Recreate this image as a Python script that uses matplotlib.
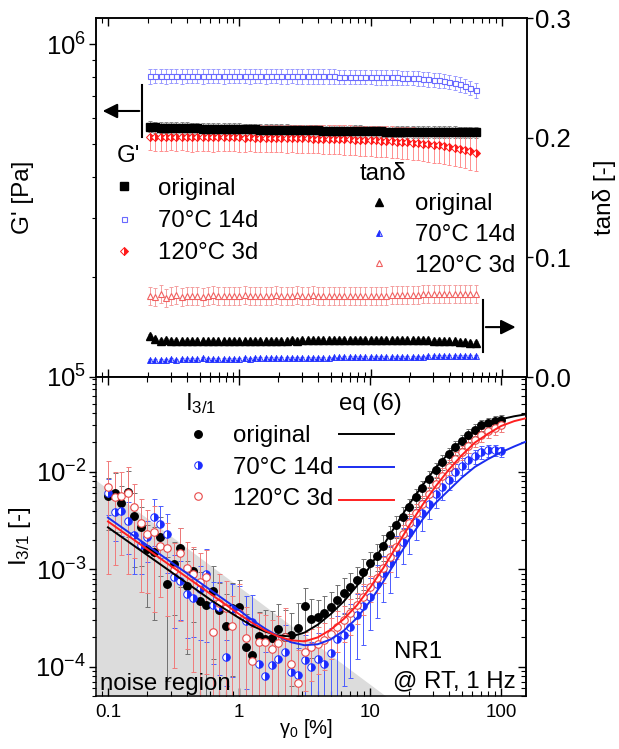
import numpy as np
import matplotlib
matplotlib.use('Agg')
import matplotlib.pyplot as plt
from matplotlib.ticker import LogLocator, FixedLocator, FuncFormatter, NullFormatter

plt.rcParams['font.family'] = ['Liberation Sans', 'DejaVu Sans']
plt.rcParams['mathtext.fontset'] = 'custom'
plt.rcParams['mathtext.rm'] = 'Liberation Sans'
plt.rcParams['mathtext.it'] = 'Liberation Sans:italic'
plt.rcParams['mathtext.bf'] = 'Liberation Sans:bold'
plt.rcParams['axes.linewidth'] = 1.1

# ---------------- data: top panel (strain sweep, 63 log-spaced points) ----------------
top_strain_first = 0.209
top_strain_last = 63.1
top_npts = 63

gp_original = [5.66, 5.63, 5.62, 5.62, 5.61, 5.61, 5.60, 5.60, 5.59, 5.59,
               5.58, 5.58, 5.58, 5.57, 5.57, 5.56, 5.56, 5.56, 5.55, 5.55,
               5.55, 5.54, 5.54, 5.54, 5.53, 5.53, 5.53, 5.52, 5.52, 5.52,
               5.51, 5.51, 5.51, 5.50, 5.50, 5.50, 5.50, 5.49, 5.49, 5.49,
               5.49, 5.48, 5.48, 5.48, 5.48, 5.47, 5.47, 5.47, 5.47, 5.46,
               5.46, 5.46, 5.46, 5.46, 5.45, 5.45, 5.45, 5.45, 5.45, 5.44,
               5.44, 5.44, 5.44]  # x 1e5 Pa
gp_70C = [8.02, 8.04, 8.03, 8.02, 8.04, 8.03, 8.02, 8.03, 8.04, 8.03,
          8.02, 8.03, 8.04, 8.03, 8.02, 8.03, 8.03, 8.04, 8.03, 8.02,
          8.03, 8.03, 8.02, 8.03, 8.03, 8.02, 8.02, 8.03, 8.02, 8.02,
          8.02, 8.01, 8.02, 8.01, 8.01, 8.01, 8.00, 8.00, 8.00, 7.99,
          7.99, 7.98, 7.98, 7.97, 7.97, 7.96, 7.95, 7.95, 7.94, 7.93,
          7.92, 7.90, 7.88, 7.86, 7.83, 7.80, 7.76, 7.71, 7.65, 7.58,
          7.50, 7.40, 7.28]
gp_120C = [5.28, 5.27, 5.26, 5.26, 5.27, 5.26, 5.26, 5.26, 5.25, 5.26,
           5.26, 5.25, 5.25, 5.26, 5.25, 5.25, 5.25, 5.25, 5.24, 5.25,
           5.24, 5.24, 5.24, 5.24, 5.23, 5.23, 5.23, 5.23, 5.22, 5.22,
           5.22, 5.21, 5.21, 5.20, 5.20, 5.19, 5.19, 5.18, 5.18, 5.17,
           5.16, 5.16, 5.15, 5.14, 5.13, 5.12, 5.11, 5.10, 5.09, 5.08,
           5.06, 5.05, 5.03, 5.01, 4.99, 4.97, 4.95, 4.92, 4.89, 4.86,
           4.82, 4.78, 4.73]
gp_120C_err = [0.46, 0.48, 0.47, 0.49, 0.47, 0.48, 0.46, 0.47, 0.49, 0.48,
               0.47, 0.48, 0.49, 0.47, 0.48, 0.47, 0.48, 0.49, 0.48, 0.47,
               0.48, 0.49, 0.48, 0.49, 0.49, 0.49, 0.50, 0.49, 0.50, 0.50,
               0.50, 0.51, 0.51, 0.51, 0.52, 0.52, 0.52, 0.53, 0.53, 0.53,
               0.54, 0.54, 0.54, 0.55, 0.55, 0.55, 0.56, 0.56, 0.56, 0.56,
               0.57, 0.57, 0.57, 0.57, 0.58, 0.58, 0.58, 0.58, 0.58, 0.58,
               0.58, 0.58, 0.58]
gp_original_relerr = 0.04
gp_70C_relerr = 0.05

tan_original = [0.0345, 0.0315, 0.0305, 0.0310, 0.0305, 0.0305, 0.0300, 0.0305, 0.0300, 0.0305,
                0.0300, 0.0300, 0.0305, 0.0300, 0.0300, 0.0300, 0.0305, 0.0300, 0.0300, 0.0300,
                0.0305, 0.0305, 0.0300, 0.0305, 0.0305, 0.0305, 0.0305, 0.0310, 0.0305, 0.0310,
                0.0310, 0.0310, 0.0310, 0.0310, 0.0310, 0.0310, 0.0310, 0.0310, 0.0310, 0.0310,
                0.0310, 0.0310, 0.0310, 0.0310, 0.0310, 0.0310, 0.0310, 0.0310, 0.0310, 0.0310,
                0.0310, 0.0310, 0.0310, 0.0310, 0.0305, 0.0305, 0.0305, 0.0300, 0.0300, 0.0295,
                0.0290, 0.0285, 0.0285]
tan_70C = [0.0140, 0.0142, 0.0145, 0.0143, 0.0148, 0.0146, 0.0150, 0.0148, 0.0152, 0.0150,
           0.0160, 0.0152, 0.0150, 0.0152, 0.0153, 0.0152, 0.0154, 0.0153, 0.0155, 0.0154,
           0.0155, 0.0156, 0.0156, 0.0157, 0.0157, 0.0158, 0.0158, 0.0159, 0.0159, 0.0160,
           0.0160, 0.0161, 0.0161, 0.0162, 0.0162, 0.0163, 0.0163, 0.0164, 0.0164, 0.0165,
           0.0165, 0.0166, 0.0166, 0.0167, 0.0167, 0.0168, 0.0168, 0.0169, 0.0169, 0.0170,
           0.0170, 0.0171, 0.0171, 0.0172, 0.0172, 0.0173, 0.0173, 0.0174, 0.0174, 0.0175,
           0.0175, 0.0176, 0.0176]
tan_120C = [0.0680, 0.0670, 0.0690, 0.0660, 0.0675, 0.0685, 0.0670, 0.0680, 0.0675, 0.0680,
            0.0670, 0.0680, 0.0685, 0.0675, 0.0680, 0.0680, 0.0675, 0.0680, 0.0685, 0.0680,
            0.0680, 0.0675, 0.0680, 0.0680, 0.0685, 0.0680, 0.0680, 0.0680, 0.0685, 0.0680,
            0.0680, 0.0685, 0.0680, 0.0680, 0.0680, 0.0680, 0.0675, 0.0680, 0.0680, 0.0680,
            0.0680, 0.0680, 0.0680, 0.0680, 0.0680, 0.0680, 0.0685, 0.0685, 0.0685, 0.0685,
            0.0685, 0.0685, 0.0690, 0.0690, 0.0690, 0.0690, 0.0690, 0.0690, 0.0690, 0.0690,
            0.0690, 0.0690, 0.0690]
tan_original_err = 0.0012
tan_70C_err = 0.0008
tan_120C_err = 0.0075

# ---------------- data: bottom panel (I3/1, 61 log-spaced points 0.1 .. 100 %) ----------------
bot_strain_first = 0.1
bot_strain_last = 100.0
bot_npts = 61

i31_original_log = [-2.25, -2.22, -2.32, -2.21, -2.45, -2.57, -2.79, -2.82, -2.67, -3.15,
                    -2.95, -2.78, -3.17, -3.02, -3.33, -3.37, -3.22, -3.42, -3.58, -3.40,
                    -3.39, -3.80, -3.88, -3.69, -3.72, -3.71, -3.61, -3.70, -3.68, -3.60,
                    -3.38, -3.51, -3.49, -3.45, -3.39, -3.32, -3.24, -3.18, -3.11, -3.03,
                    -2.94, -2.86, -2.76, -2.65, -2.55, -2.46, -2.36, -2.26, -2.17, -2.07,
                    -1.98, -1.90, -1.82, -1.75, -1.68, -1.62, -1.57, -1.52, -1.50, -1.48,
                    -1.47]
i31_70C_log = [-2.22, -2.41, -2.40, -2.50, -2.65, -2.75, -2.67, -2.46, -2.54, -2.64,
               -3.08, -3.12, -3.25, -3.30, -3.20, -3.05, -3.37, -3.39, -3.90, -3.41,
               -3.45, -3.53, -3.54, -3.97, -4.10, -3.98, -3.92, -3.85, -4.05, -4.09,
               -3.93, -4.00, -3.92, -3.97, -3.86, -3.72, -3.68, -3.59, -3.47, -3.38,
               -3.28, -3.15, -3.04, -2.94, -2.82, -2.72, -2.62, -2.51, -2.42, -2.33,
               -2.23, -2.16, -2.08, -2.00, -1.94, -1.88, -1.84, -1.80, -1.78, -1.78,
               -1.79]
i31_120C_log = [-2.16, -2.26, -2.25, -2.22, -2.36, -2.53, -2.64, -2.62, -2.76, -2.78,
                -3.01, -2.83, -2.99, -3.05, -3.13, -3.08, -3.64, -3.35, -3.40, -3.58,
                -3.45, -3.71, -3.94, -3.75, -3.75, -3.82, -3.76, -3.70, -3.97, -4.17,
                -3.85, -3.80, -3.77, -3.73, -3.66, -3.59, -3.52, -3.45, -3.37, -3.28,
                -3.18, -3.09, -2.99, -2.87, -2.77, -2.64, -2.53, -2.42, -2.33, -2.23,
                -2.13, -2.04, -1.95, -1.87, -1.80, -1.73, -1.67, -1.62, -1.58, -1.55,
                -1.52]
i31_original_relerr = [0.55, 0.6, 0.5, 0.65, 0.7, 0.6, 0.75, 0.8, 0.6, 0.9,
                       0.7, 0.6, 0.8, 0.7, 1.0, 0.9, 0.8, 0.9, 1.1, 0.8,
                       0.9, 1.2, 1.1, 0.8, 1.0, 0.9, 0.8, 0.9, 0.7, 0.8,
                       0.55, 0.6, 0.5, 0.5, 0.45, 0.45, 0.4, 0.4, 0.35, 0.35,
                       0.3, 0.3, 0.3, 0.25, 0.25, 0.25, 0.2, 0.2, 0.2, 0.2,
                       0.18, 0.18, 0.16, 0.16, 0.15, 0.15, 0.14, 0.14, 0.13, 0.13, 0.12]
i31_70C_relerr = [0.4, 0.5, 0.45, 0.55, 0.6, 0.5, 0.45, 0.5, 0.55, 0.6,
                  0.7, 0.6, 0.65, 0.6, 0.7, 0.8, 0.75, 0.8, 0.5, 0.8,
                  0.9, 0.8, 0.9, 0.7, 0.8, 0.9, 1.0, 0.9, 1.0, 0.9,
                  0.8, 0.8, 0.85, 0.8, 0.8, 0.75, 0.7, 0.7, 0.65, 0.6,
                  0.55, 0.55, 0.5, 0.5, 0.45, 0.4, 0.4, 0.35, 0.35, 0.3,
                  0.28, 0.25, 0.22, 0.2, 0.2, 0.18, 0.16, 0.15, 0.14, 0.13, 0.12]
i31_120C_relerr = [0.87, 0.8, 0.75, 0.85, 0.7, 0.8, 0.75, 0.85, 0.7, 0.8,
                   0.9, 0.8, 0.85, 0.9, 1.0, 0.9, 1.1, 1.0, 0.9, 1.0,
                   1.0, 1.1, 1.2, 1.0, 0.9, 1.0, 0.9, 1.0, 1.1, 1.2,
                   0.6, 0.55, 0.5, 0.5, 0.45, 0.45, 0.4, 0.4, 0.35, 0.35,
                   0.3, 0.3, 0.3, 0.3, 0.25, 0.25, 0.25, 0.22, 0.22, 0.2,
                   0.2, 0.2, 0.18, 0.18, 0.16, 0.16, 0.15, 0.15, 0.15, 0.15, 0.15]

# eq (6) fit curves (log10 strain -> log10 I3/1)
fit_log_strain = [-1.0, -0.8, -0.6, -0.4, -0.2, 0.0, 0.1, 0.2, 0.3, 0.4, 0.5, 0.6, 0.7, 0.8,
                  0.9, 1.0, 1.1, 1.2, 1.3, 1.4, 1.5, 1.6, 1.7, 1.8, 1.9, 2.0, 2.1, 2.19]
fit_original_log = [-2.57, -2.76, -2.95, -3.14, -3.33, -3.50, -3.58, -3.64, -3.68, -3.69, -3.65, -3.57,
                    -3.46, -3.33, -3.17, -2.97, -2.76, -2.54, -2.33, -2.14, -1.96, -1.81, -1.68, -1.58,
                    -1.51, -1.46, -1.43, -1.41]
fit_70C_log = [-2.47, -2.66, -2.85, -3.04, -3.23, -3.42, -3.52, -3.61, -3.69, -3.75, -3.78, -3.77,
               -3.72, -3.63, -3.50, -3.33, -3.13, -2.91, -2.69, -2.49, -2.32, -2.19, -2.06, -1.95,
               -1.87, -1.80, -1.74, -1.69]
fit_120C_log = [-2.51, -2.70, -2.89, -3.08, -3.27, -3.46, -3.55, -3.63, -3.69, -3.73, -3.74, -3.70,
                -3.62, -3.51, -3.37, -3.19, -2.99, -2.77, -2.55, -2.34, -2.15, -1.98, -1.83, -1.70,
                -1.61, -1.53, -1.48, -1.45]

noise_strain = [0.081, 14.0]
noise_level = [8.2e-3, 4.7e-5]

series_labels = ['original', '70°C 14d', '120°C 3d']

# ---------------- figure ----------------
W, H = 619, 749
fig = plt.figure(figsize=(W / 100, H / 100), dpi=100)
ax1 = fig.add_axes([96 / W, (H - 377) / H, 431 / W, 359 / H])
ax2 = fig.add_axes([96 / W, (H - 696) / H, 430 / W, 319 / H])
ax1r = ax1.twinx()

BLUE = '#1c2cff'
BLUE_L = '#6a6aff'
RED = '#ff1a1a'
RED_L = '#f06060'

xt = np.geomspace(top_strain_first, top_strain_last, top_npts)
g0 = np.array(gp_original) * 1e5
g70 = np.array(gp_70C) * 1e5
g120 = np.array(gp_120C) * 1e5
g120e = np.array(gp_120C_err) * 1e5

# G' (left axis)
ax1.errorbar(xt, g70, yerr=g70 * gp_70C_relerr, fmt='none', ecolor='#9a9aff', elinewidth=0.7, capsize=1.5, capthick=0.7, zorder=2)
ax1.errorbar(xt, g0, yerr=g0 * gp_original_relerr, fmt='none', ecolor='#888888', elinewidth=0.7, capsize=1.5, capthick=0.7, zorder=2)
ax1.errorbar(xt, g120, yerr=g120e, fmt='none', ecolor='#ff9090', elinewidth=0.7, capsize=1.5, capthick=0.7, zorder=2)
h_g70, = ax1.plot(xt, g70, ls='none', marker='s', ms=3.6, mfc='white', mec=BLUE_L, mew=0.8, zorder=3)
h_g0, = ax1.plot(xt, g0, ls='none', marker='s', ms=5.6, mfc='black', mec='black', zorder=4)
h_g120, = ax1.plot(xt, g120, ls='none', marker='D', ms=4.4, fillstyle='right', mfc=RED, mfcalt='white',
                   mec=RED, mew=0.7, zorder=3)

# tan delta (right axis)
t0 = np.array(tan_original)
t70 = np.array(tan_70C)
t120 = np.array(tan_120C)
ax1r.errorbar(xt, t120, yerr=tan_120C_err, fmt='none', ecolor='#f4a0a0', elinewidth=0.7, capsize=1.5, capthick=0.7, zorder=2)
ax1r.errorbar(xt, t0, yerr=tan_original_err, fmt='none', ecolor='#777777', elinewidth=0.7, capsize=1.5, capthick=0.7, zorder=2)
ax1r.errorbar(xt, t70, yerr=tan_70C_err, fmt='none', ecolor='#8080ff', elinewidth=0.7, capsize=1.5, capthick=0.7, zorder=2)
h_t120, = ax1r.plot(xt, t120, ls='none', marker='^', ms=5, mfc='white', mec=RED_L, mew=0.8, zorder=3)
h_t0, = ax1r.plot(xt, t0, ls='none', marker='^', ms=5.8, mfc='black', mec='black', zorder=3)
h_t70, = ax1r.plot(xt, t70, ls='none', marker='^', ms=3.8, fillstyle='left', mfc=BLUE, mfcalt='#b0b0ff',
                   mec=BLUE, mew=0.6, zorder=3)

for ax in (ax1, ax2):
    ax.set_xscale('log')
    ax.set_yscale('log')
    ax.set_xlim(0.081, 155)
ax1.set_ylim(1e5, 1.2e6)
ax1r.set_ylim(0, 0.3)

# ticks: top panel
ax1.xaxis.set_major_locator(LogLocator(base=10, numticks=10))
ax1.xaxis.set_minor_locator(LogLocator(base=10, subs=np.arange(2, 10), numticks=10))
ax1.tick_params(axis='x', which='both', direction='in', top=True, bottom=True, labelbottom=False)
ax1.tick_params(axis='x', which='major', length=6, width=1.0)
ax1.tick_params(axis='x', which='minor', length=3.5, width=0.8)
ax1.yaxis.set_major_locator(LogLocator(base=10, numticks=10))
ax1.yaxis.set_minor_locator(LogLocator(base=10, subs=np.arange(2, 10), numticks=10))
ax1.tick_params(axis='y', which='both', direction='out', left=True, right=False, labelsize=18.5, pad=2)
ax1.tick_params(axis='y', which='major', length=5, width=1.0)
ax1.tick_params(axis='y', which='minor', length=3, width=0.8)
ax1r.yaxis.set_major_locator(FixedLocator([0.0, 0.1, 0.2, 0.3]))
ax1r.yaxis.set_major_formatter(FuncFormatter(lambda v, p: '%.1f' % v))
ax1r.tick_params(axis='y', direction='out', length=4, width=1.0, labelsize=18.5, pad=1.5)

# ticks: bottom panel
ax2.set_ylim(5e-5, 0.094)
ax2.xaxis.set_major_locator(LogLocator(base=10, numticks=10))
ax2.xaxis.set_minor_locator(LogLocator(base=10, subs=np.arange(2, 10), numticks=10))
ax2.xaxis.set_major_formatter(FuncFormatter(lambda v, p: '%g' % v))
ax2.xaxis.set_minor_formatter(NullFormatter())
ax2.tick_params(axis='x', which='both', direction='in', top=True, bottom=True, labelsize=13.5, pad=6)
ax2.tick_params(axis='x', which='major', length=6, width=1.0)
ax2.tick_params(axis='x', which='minor', length=3.5, width=0.8)
ax2.yaxis.set_major_locator(LogLocator(base=10, numticks=10))
ax2.yaxis.set_minor_locator(LogLocator(base=10, subs=np.arange(2, 10), numticks=10))
ax2.yaxis.set_minor_formatter(NullFormatter())
ax2.tick_params(axis='y', which='both', direction='out', left=True, right=False, labelsize=18.5, pad=2)
ax2.tick_params(axis='y', which='major', length=5, width=1.0)
ax2.tick_params(axis='y', which='minor', length=3, width=0.8)
ax2r = ax2.secondary_yaxis('right')
ax2r.set_yscale('log')
ax2r.yaxis.set_major_locator(LogLocator(base=10, numticks=10))
ax2r.yaxis.set_minor_locator(LogLocator(base=10, subs=np.arange(2, 10), numticks=10))
ax2r.tick_params(axis='y', which='both', direction='in', labelright=False)
ax2r.tick_params(axis='y', which='major', length=6, width=1.0)
ax2r.tick_params(axis='y', which='minor', length=3.5, width=0.8)

# bottom panel data
xb = np.geomspace(bot_strain_first, bot_strain_last, bot_npts)
ax2.fill_between(noise_strain, noise_level, 1e-7, color='#dcdcdc', lw=0, zorder=0)

def bars(x, ylog, rel, color):
    y = 10 ** np.array(ylog)
    e = y * np.array(rel)
    lo = np.minimum(e, 0.999 * y)
    ax2.errorbar(x, y, yerr=[lo, e], fmt='none', ecolor=color, elinewidth=0.7, capsize=1.8, capthick=0.7, zorder=2)
    return y

y0 = bars(xb, i31_original_log, i31_original_relerr, '#707070')
y70 = bars(xb, i31_70C_log, i31_70C_relerr, '#4b5bff')
y120 = bars(xb, i31_120C_log, i31_120C_relerr, '#f07a7a')

fx = 10 ** np.array(fit_log_strain)
l0, = ax2.plot(fx, 10 ** np.array(fit_original_log), color='black', lw=1.4, zorder=5)
l70, = ax2.plot(fx, 10 ** np.array(fit_70C_log), color='#1a2cf0', lw=1.4, zorder=5)
l120, = ax2.plot(fx, 10 ** np.array(fit_120C_log), color='#ff2020', lw=1.4, zorder=5)

m0, = ax2.plot(xb, y0, ls='none', marker='o', ms=5.4, mfc='black', mec='black', zorder=4)
m70, = ax2.plot(xb, y70, ls='none', marker='o', ms=5.4, fillstyle='right', mfc=BLUE, mfcalt='white',
                mec=BLUE, mew=0.7, zorder=4)
m120, = ax2.plot(xb, y120, ls='none', marker='o', ms=5.4, mfc='white', mec='#e84848', mew=0.8, zorder=4)

# ---------------- legends ----------------
lkw = dict(frameon=False, fontsize=17.3, title_fontsize=17.3, alignment='left', borderpad=0,
           borderaxespad=0, loc='upper left')
leg_g = ax1.legend([h_g0, h_g70, h_g120], series_labels, title="G'", bbox_to_anchor=(0.049, 0.645),
                   handlelength=0.6, handletextpad=1.1, labelspacing=0.43, **lkw)
leg_t = ax1r.legend([h_t0, h_t70, h_t120], series_labels, title='tanδ', bbox_to_anchor=(0.612, 0.597),
                    handlelength=1.6, handletextpad=0.7, labelspacing=0.36, **lkw)
leg_i = ax2.legend([m0, m70, m120], series_labels, title=r'$\mathregular{I_{3/1}}$',
                   bbox_to_anchor=(0.207, 0.955), handlelength=1.1, handletextpad=0.9,
                   labelspacing=0.38, **lkw)
ax2.add_artist(leg_i)
leg_f = ax2.legend([l0, l70, l120], series_labels, title='eq (6)', bbox_to_anchor=(0.565, 0.95),
                   handlelength=2.3, handletextpad=0.3, labelspacing=0.45, labelcolor='none', **lkw)

# ---------------- labels, texts, arrows ----------------
ax1.set_ylabel("G' [Pa]", fontsize=17.5)
ax1.yaxis.set_label_coords(-0.145, 0.5)
ax1r.set_ylabel('tanδ [-]', fontsize=17.5)
ax1r.yaxis.set_label_coords(1.153, 0.5)
ax2.set_ylabel(r'$\mathregular{I_{3/1}}$ [-]', fontsize=17.5)
ax2.yaxis.set_label_coords(-0.147, 0.5)
ax2.set_xlabel(r'$\mathregular{\gamma_0}$ [%]', fontsize=14.5)
ax2.xaxis.set_label_coords(0.488, -0.066)

ax2.text(0.009, 0.019, 'noise region', transform=ax2.transAxes, fontsize=17.3, va='baseline', ha='left', zorder=6)
ax2.text(0.693, 0.119, 'NR1', transform=ax2.transAxes, fontsize=17.3, va='baseline', ha='left')
ax2.text(0.691, 0.028, '@ RT, 1 Hz', transform=ax2.transAxes, fontsize=17.3, va='baseline', ha='left')

# arrows indicating axes
ax1.plot([0.107, 0.107], [0.669, 0.813], transform=ax1.transAxes, color='black', lw=1.5, clip_on=False)
ax1.annotate('', xy=(0.009, 0.741), xytext=(0.107, 0.741), xycoords='axes fraction',
             arrowprops=dict(arrowstyle='-|>', color='black', lw=1.5, mutation_scale=22))
ax1r.plot([0.898, 0.898], [0.070, 0.214], transform=ax1r.transAxes, color='black', lw=1.5)
ax1r.annotate('', xy=(0.98, 0.139), xytext=(0.898, 0.139), xycoords='axes fraction',
              arrowprops=dict(arrowstyle='-|>', color='black', lw=1.5, mutation_scale=22))

fig.savefig('out.png', dpi=100)
